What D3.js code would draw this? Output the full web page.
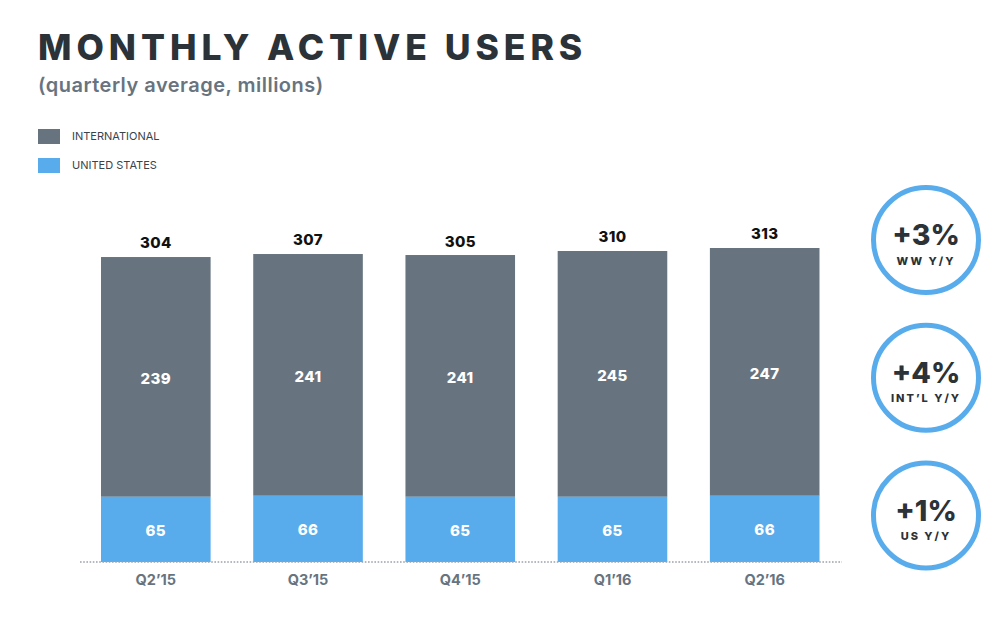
<!DOCTYPE html>
<html><head><meta charset="utf-8">
<script src="https://cdn.jsdelivr.net/npm/d3@7"></script>
<style>html,body{margin:0;padding:0;background:#fff}svg{display:block}text{font-family:Inter,"Noto Sans",sans-serif}</style>
</head><body><svg id="c" width="1000" height="620"></svg>
<script>
const categories=["Q2’15","Q3’15","Q4’15","Q1’16","Q2’16"];
const usValues=[65,66,65,65,66];
const intlValues=[239,241,241,245,247];
const totals=[304,307,305,310,313];
const legendLabels=["INTERNATIONAL","UNITED STATES"];
const growthValues=["+3%","+4%","+1%"];
const growthLabels=["WW Y/Y","INT’L Y/Y","US Y/Y"];
const GREY="#67747f",BLUE="#58acec",DARK="#2b3238";

const svg=d3.select("#c");
const x=d3.scaleBand().domain(categories).range([80,840.5]).paddingInner(0.28).paddingOuter(0.138);
const y=d3.scaleLinear().domain([0,313]).range([562,248]);

svg.append("text").attr("x",38).attr("y",60).attr("font-size",35.5).attr("font-weight",800)
  .attr("letter-spacing",4.95).attr("fill",DARK).text("MONTHLY ACTIVE USERS");
svg.append("text").attr("x",38).attr("y",92).attr("font-size",20).attr("font-weight",600)
  .attr("letter-spacing",0.48).attr("fill",GREY).text("(quarterly average, millions)");

legendLabels.forEach((l,i)=>{
  svg.append("rect").attr("x",38).attr("y",129+i*29).attr("width",22).attr("height",15).attr("fill",i?BLUE:GREY);
  svg.append("text").attr("x",72).attr("y",140+i*29).attr("font-size",11).attr("fill","#3a424a").text(l);
});

const g=svg.selectAll("g.bar").data(categories).join("g").attr("class","bar");
g.append("rect").attr("x",d=>x(d)).attr("width",x.bandwidth()).attr("fill",GREY)
  .attr("y",(d,i)=>y(usValues[i]+intlValues[i])).attr("height",(d,i)=>y(usValues[i])-y(usValues[i]+intlValues[i]));
g.append("rect").attr("x",d=>x(d)).attr("width",x.bandwidth()).attr("fill",BLUE)
  .attr("y",(d,i)=>y(usValues[i])).attr("height",(d,i)=>y(0)-y(usValues[i]));

const cx=d=>x(d)+x.bandwidth()/2;
g.append("text").attr("x",cx).attr("y",(d,i)=>y(totals[i])-8.7).attr("text-anchor","middle")
  .attr("font-size",15).attr("font-weight",800).attr("fill","#111").attr("letter-spacing",0.4).text((d,i)=>totals[i]);
g.append("text").attr("x",cx).attr("y",(d,i)=>y(usValues[i]+intlValues[i]/2)+7.5).attr("text-anchor","middle")
  .attr("font-size",15).attr("font-weight",800).attr("fill","#fff").attr("letter-spacing",0.4).text((d,i)=>intlValues[i]);
g.append("text").attr("x",cx).attr("y",(d,i)=>y(usValues[i]/2)+6.5).attr("text-anchor","middle")
  .attr("font-size",15).attr("font-weight",800).attr("fill","#fff").attr("letter-spacing",0.4).text((d,i)=>usValues[i]);

svg.append("line").attr("x1",80).attr("x2",842).attr("y1",562).attr("y2",562)
  .attr("stroke","#9aa3aa").attr("stroke-width",1.6).attr("stroke-dasharray","1.6 1.6");

g.append("text").attr("x",cx).attr("y",585).attr("text-anchor","middle").attr("font-size",14.5)
  .attr("font-weight",700).attr("fill",GREY).text(d=>d);

const cy=d3.scalePoint().domain(growthLabels).range([240,515.5]);
growthLabels.forEach((l,i)=>{
  const c=cy(l);
  svg.append("circle").attr("cx",926).attr("cy",c).attr("r",52.5).attr("fill","#fff").attr("stroke",BLUE).attr("stroke-width",5);
  svg.append("text").attr("x",926).attr("y",c+5).attr("text-anchor","middle").attr("font-size",28.5).attr("font-weight",800).attr("fill",DARK).text(growthValues[i]);
  svg.append("text").attr("x",926).attr("y",c+24.5).attr("text-anchor","middle").attr("font-size",11).attr("font-weight",800).attr("letter-spacing",2).attr("fill",DARK).text(l);
});
</script></body></html>
